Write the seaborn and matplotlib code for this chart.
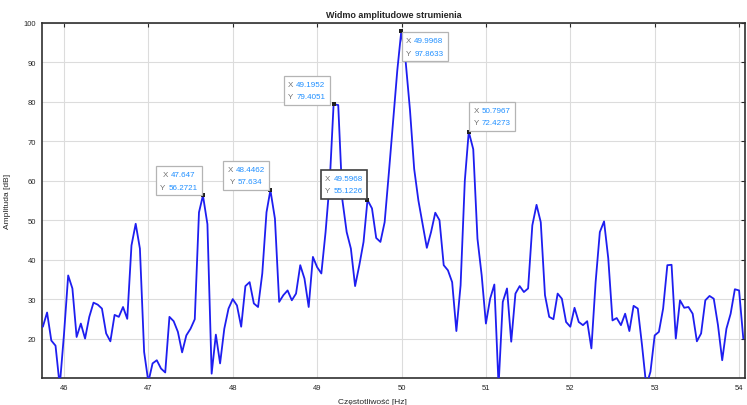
import matplotlib
matplotlib.use("Agg")
import matplotlib.pyplot as plt
from matplotlib.offsetbox import TextArea, HPacker, VPacker, AnnotationBbox
import numpy as np
import pandas as pd
import seaborn as sns

# Amplitude spectrum of the flow signal (frequency bins in Hz, amplitude in dB)
freq = [
    45.75, 45.80, 45.85, 45.90, 45.95, 46.00, 46.05, 46.10, 46.15, 46.20,
    46.25, 46.30, 46.35, 46.40, 46.45, 46.50, 46.55, 46.60, 46.65, 46.70,
    46.75, 46.80, 46.85, 46.90, 46.95, 47.00, 47.05, 47.10, 47.15, 47.20,
    47.25, 47.30, 47.35, 47.40, 47.45, 47.50, 47.55, 47.60, 47.647, 47.70,
    47.75, 47.80, 47.85, 47.90, 47.95, 48.00, 48.05, 48.10, 48.15, 48.20,
    48.25, 48.30, 48.35, 48.40, 48.4462, 48.50, 48.55, 48.60, 48.65, 48.70,
    48.75, 48.80, 48.85, 48.90, 48.95, 49.00, 49.05, 49.10, 49.15, 49.1952,
    49.25, 49.30, 49.35, 49.40, 49.45, 49.50, 49.55, 49.5968, 49.65, 49.70,
    49.75, 49.80, 49.85, 49.90, 49.95, 49.9968, 50.05, 50.10, 50.15, 50.20,
    50.25, 50.30, 50.35, 50.40, 50.45, 50.50, 50.55, 50.60, 50.65, 50.70,
    50.75, 50.7967, 50.85, 50.90, 50.95, 51.00, 51.05, 51.10, 51.15, 51.20,
    51.25, 51.30, 51.35, 51.40, 51.45, 51.50, 51.55, 51.60, 51.65, 51.70,
    51.75, 51.80, 51.85, 51.90, 51.95, 52.00, 52.05, 52.10, 52.15, 52.20,
    52.25, 52.30, 52.35, 52.40, 52.45, 52.50, 52.55, 52.60, 52.65, 52.70,
    52.75, 52.80, 52.85, 52.90, 52.95, 53.00, 53.05, 53.10, 53.15, 53.20,
    53.25, 53.30, 53.35, 53.40, 53.45, 53.50, 53.55, 53.60, 53.65, 53.70,
    53.75, 53.80, 53.85, 53.90, 53.95, 54.00, 54.05,
]
amplitude = [
    23.0, 26.6, 19.5, 18.2, 8.0, 21.0, 36.0, 32.7, 20.4, 23.8,
    20.0, 25.5, 29.1, 28.6, 27.6, 21.3, 19.3, 26.0, 25.5, 28.0,
    25.0, 43.6, 49.1, 42.8, 16.6, 9.0, 13.7, 14.5, 12.4, 11.4,
    25.5, 24.4, 21.7, 16.5, 20.8, 22.5, 24.9, 52.0, 56.2721, 49.0,
    11.1, 21.0, 13.7, 22.5, 27.6, 30.0, 28.4, 23.0, 33.3, 34.3,
    28.9, 28.0, 36.5, 52.0, 57.634, 50.4, 29.3, 31.0, 32.2, 29.7,
    31.4, 38.6, 35.2, 28.0, 40.7, 38.1, 36.5, 47.0, 60.0, 79.4051,
    79.2, 55.0, 47.0, 42.8, 33.3, 38.6, 44.5, 55.1226, 53.0, 45.5,
    44.5, 49.5, 62.0, 75.0, 88.0, 97.8633, 90.0, 78.0, 63.0, 55.0,
    49.0, 43.0, 47.0, 51.9, 50.0, 38.6, 37.3, 34.3, 21.9, 33.5,
    60.0, 72.4273, 68.0, 45.3, 36.0, 23.8, 30.1, 33.7, 8.0, 29.3,
    32.7, 19.2, 31.4, 33.3, 31.8, 32.7, 48.7, 53.9, 49.5, 31.0,
    25.5, 24.9, 31.4, 30.1, 24.2, 23.0, 27.8, 24.2, 23.4, 24.4,
    17.5, 34.3, 47.0, 49.7, 40.3, 24.6, 25.2, 23.4, 26.3, 21.9,
    28.3, 27.6, 18.3, 8.0, 11.6, 20.8, 21.7, 27.6, 38.6, 38.7,
    20.0, 29.7, 27.8, 28.0, 26.3, 19.3, 21.3, 29.7, 30.8, 30.1,
    23.4, 14.5, 22.5, 26.3, 32.5, 32.2, 20.0,
]

# Data tips placed on the spectral peaks
tip_x = [47.647, 48.4462, 49.1952, 49.5968, 49.9968, 50.7967]
tip_y = [56.2721, 57.634, 79.4051, 55.1226, 97.8633, 72.4273]
tip_x_text = ["47.647", "48.4462", "49.1952", "49.5968", "49.9968", "50.7967"]
tip_y_text = ["56.2721", "57.634", "79.4051", "55.1226", "97.8633", "72.4273"]

x_ticks = [46, 47, 48, 49, 50, 51, 52, 53, 54]
y_ticks = [20, 30, 40, 50, 60, 70, 80, 90, 100]

sns.set_theme(style="white")
plt.rcParams["font.family"] = ["Liberation Sans", "DejaVu Sans"]

df = pd.DataFrame({"f": freq, "a": amplitude})
tips = pd.DataFrame({"f": tip_x, "a": tip_y})

fig = plt.figure(figsize=(7.47, 4.06), dpi=100)
ax = fig.add_axes([0.0558, 0.0665, 0.9415, 0.8744])

sns.lineplot(data=df, x="f", y="a", ax=ax, color="#1e1ef0", lw=1.3,
             sort=False, zorder=3)
sns.scatterplot(data=tips, x="f", y="a", ax=ax, color="#202020", marker="s",
                s=5, linewidth=0, zorder=4)

ax.set_xlim(45.736, 54.07)
ax.set_ylim(10, 100)
ax.set_xticks(x_ticks)
ax.set_yticks(y_ticks)
ax.set_xticklabels([str(v) for v in x_ticks])
ax.set_yticklabels([str(v) for v in y_ticks])
ax.grid(True, color="#dcdcdc", lw=0.8)
ax.set_axisbelow(True)
ax.tick_params(axis="both", direction="in", length=3, width=0.8,
               labelsize=5.5, colors="#262626", pad=4,
               top=True, right=True)
for s in ax.spines.values():
    s.set_color("#303030")
    s.set_linewidth(1.2)

ax.set_title("Widmo amplitudowe strumienia", fontsize=6.5, fontweight="bold",
             color="#262626", pad=4)
ax.set_xlabel("Częstotliwość [Hz]", fontsize=6, color="#262626")
ax.set_ylabel("Amplituda [dB]", fontsize=6, color="#262626")
ax.xaxis.set_label_coords(0.47, -0.055)
ax.yaxis.set_label_coords(-0.043, 0.5)

# offsets (points) and box anchors for each data tip
offsets = [(-4.0, 3.5), (-4.0, 3.6), (-5.8, 3.0), (-3.5, 4.0), (3.5, -4.0), (3.5, 4.0)]
anchors = [(1, 0), (1, 0), (1, 0), (1, 0), (0, 1), (0, 0)]
selected = 3

for i, (x, y) in enumerate(zip(tip_x, tip_y)):
    lab_style = dict(color="#707070", fontsize=5.8)
    val_style = dict(color="#1f8fff", fontsize=5.8)
    row1 = HPacker(children=[TextArea("X", textprops=lab_style),
                             TextArea(tip_x_text[i], textprops=val_style)],
                   align="baseline", pad=0, sep=2)
    row2 = HPacker(children=[TextArea("Y", textprops=lab_style),
                             TextArea(tip_y_text[i], textprops=val_style)],
                   align="baseline", pad=0, sep=2)
    box = VPacker(children=[row1, row2], align="center", pad=0, sep=4)
    edge = "#404040" if i == selected else "#b4b4b4"
    lw = 1.2 if i == selected else 0.9
    ab = AnnotationBbox(box, (x, y), xybox=offsets[i], boxcoords="offset points",
                        box_alignment=anchors[i], frameon=True, pad=0.7,
                        bboxprops=dict(edgecolor=edge, facecolor="white",
                                       lw=lw, boxstyle="square"),
                        zorder=6)
    ax.add_artist(ab)

fig.savefig("out.png", dpi=100, facecolor="white")
